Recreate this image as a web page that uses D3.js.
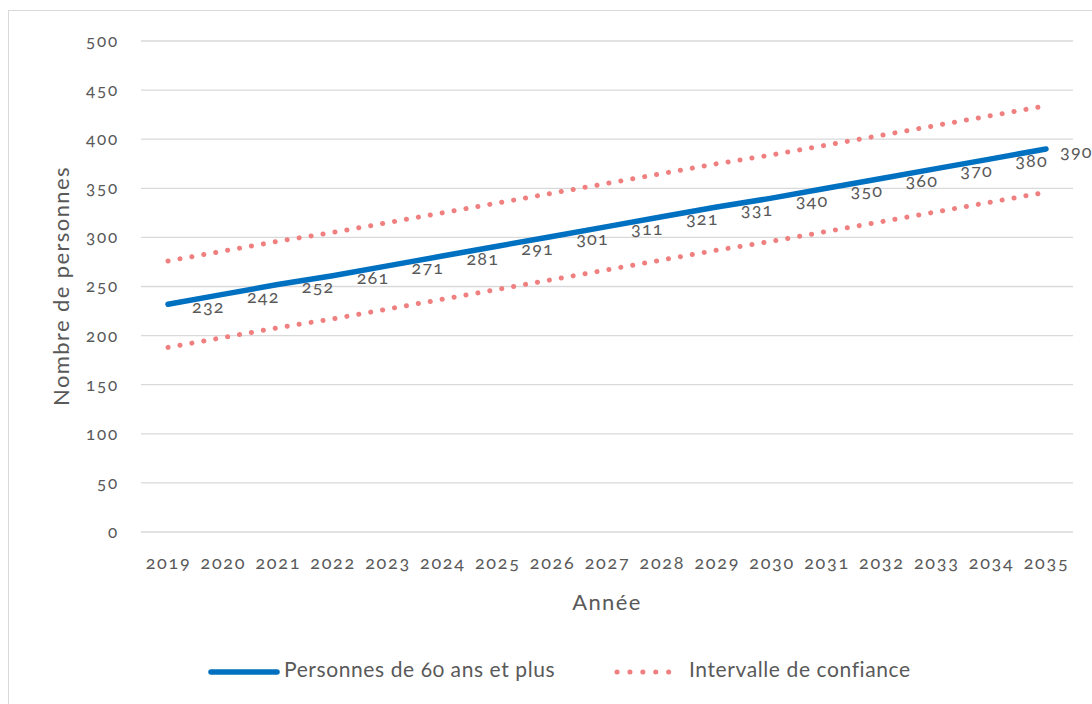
<!DOCTYPE html>
<html>
<head>
<meta charset="utf-8">
<script src="https://cdn.jsdelivr.net/npm/d3@7"></script>
<style>
  body { margin: 0; background: #fff; }
  svg text { font-family: Lato, "Open Sans", sans-serif; font-feature-settings: "onum" 1; fill: #595959; }
</style>
</head>
<body>
<div id="chart"></div>
<script>
// data
var years = [2019, 2020, 2021, 2022, 2023, 2024, 2025, 2026, 2027, 2028, 2029, 2030, 2031, 2032, 2033, 2034, 2035];
var persons = [232, 242, 252, 261, 271, 281, 291, 301, 311, 321, 331, 340, 350, 360, 370, 380, 390];
var upperCI = [276, 286, 296, 305, 315, 325, 335, 345, 355, 365, 375, 384, 394, 404, 414, 424, 434];
var lowerCI = [188, 198, 208, 217, 227, 237, 247, 257, 267, 277, 287, 296, 306, 316, 326, 336, 346];
var yTicks = [0, 50, 100, 150, 200, 250, 300, 350, 400, 450, 500];

var width = 1092, height = 704;
var margin = {top: 41, right: 20, bottom: 172, left: 141};

var svg = d3.select("#chart")
    .append("svg")
    .attr("width", width)
    .attr("height", height);

// outer frame
svg.append("rect")
    .attr("x", 8.5).attr("y", 10.5)
    .attr("width", width + 10).attr("height", height + 10)
    .attr("fill", "none")
    .attr("stroke", "#d9d9d9");

var x = d3.scalePoint()
    .domain(years)
    .range([168, 1046]);

var y = d3.scaleLinear()
    .domain([0, 500])
    .range([532, 41]);

// gridlines
svg.append("g")
    .selectAll("line")
    .data(yTicks)
    .enter()
    .append("line")
    .attr("x1", margin.left)
    .attr("x2", 1073)
    .attr("y1", d => y(d))
    .attr("y2", d => y(d))
    .attr("stroke", "#d9d9d9")
    .attr("stroke-width", 1.3);

// left axis labels
var axisLeft = d3.axisLeft(y).tickValues(yTicks).tickSize(0).tickPadding(0);
var gl = svg.append("g")
    .attr("transform", "translate(119,0)")
    .call(axisLeft);
gl.select(".domain").remove();
gl.selectAll("text")
    .attr("font-size", 17)
    .attr("letter-spacing", 1.8)
    .attr("fill", "#595959");

// bottom axis labels
var axisBottom = d3.axisBottom(x).tickSize(0).tickPadding(0);
var gb = svg.append("g")
    .attr("transform", "translate(0,556)")
    .call(axisBottom);
gb.select(".domain").remove();
gb.selectAll("text")
    .attr("font-size", 18)
    .attr("letter-spacing", 1.7)
    .attr("fill", "#595959");

// axis titles
svg.append("text")
    .attr("x", 607).attr("y", 610)
    .attr("text-anchor", "middle")
    .attr("font-size", 22)
    .attr("letter-spacing", 1.4)
    .text("Année");

svg.append("text")
    .attr("transform", "translate(69,286) rotate(-90)")
    .attr("text-anchor", "middle")
    .attr("font-size", 22)
    .attr("letter-spacing", 1.4)
    .text("Nombre de personnes");

var line = d3.line()
    .x((d, i) => x(years[i]))
    .y(d => y(d));

// confidence interval, dotted
[upperCI, lowerCI].forEach(function(s) {
    svg.append("path")
        .datum(s)
        .attr("d", line)
        .attr("fill", "none")
        .attr("stroke", "#F08080")
        .attr("stroke-width", 5)
        .attr("stroke-linecap", "round")
        .attr("stroke-dasharray", "0.1 12");
});

// main series
svg.append("path")
    .datum(persons)
    .attr("d", line)
    .attr("fill", "none")
    .attr("stroke", "#0070C0")
    .attr("stroke-width", 5.5)
    .attr("stroke-linecap", "round");

// data labels
svg.append("g")
    .selectAll("text")
    .data(persons)
    .enter()
    .append("text")
    .attr("x", (d, i) => Math.min(x(years[i]) + 24, 1060))
    .attr("y", d => y(d) + 4)
    .attr("dominant-baseline", "middle")
    .attr("font-size", 18)
    .attr("letter-spacing", 1.2)
    .attr("fill", "#404040")
    .text(d => d);

// legend
var lg = svg.append("g").attr("transform", "translate(0,672)");
lg.append("line")
    .attr("x1", 211).attr("x2", 277)
    .attr("stroke", "#0070C0").attr("stroke-width", 5.5).attr("stroke-linecap", "round");
lg.append("text")
    .attr("x", 284).attr("y", 0)
    .attr("dominant-baseline", "middle")
    .attr("font-size", 21)
    .attr("letter-spacing", 0.6)
    .text("Personnes de 60 ans et plus");
lg.append("line")
    .attr("x1", 617).attr("x2", 681)
    .attr("stroke", "#F08080").attr("stroke-width", 5).attr("stroke-linecap", "round")
    .attr("stroke-dasharray", "0.1 12.8");
lg.append("text")
    .attr("x", 689).attr("y", 0)
    .attr("dominant-baseline", "middle")
    .attr("font-size", 21)
    .attr("letter-spacing", 0.6)
    .text("Intervalle de confiance");
</script>
</body>
</html>
